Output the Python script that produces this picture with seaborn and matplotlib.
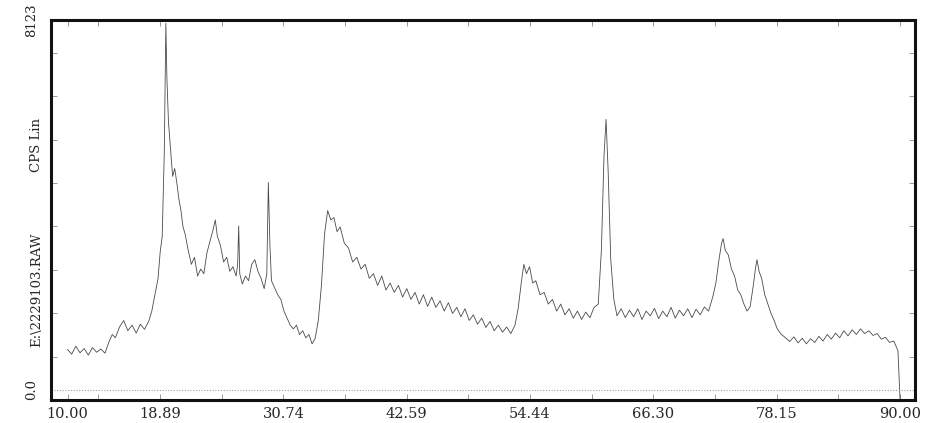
import matplotlib
matplotlib.use("Agg")
import matplotlib.pyplot as plt
import seaborn as sns

# 2-theta (deg) and intensity (counts)
two_theta = [
    10.0, 10.4, 10.8, 11.2, 11.6, 12.0, 12.4, 12.8, 13.2, 13.6,
    14.0, 14.3, 14.6, 15.0, 15.4, 15.8, 16.2, 16.6, 17.0, 17.4,
    17.8, 18.1, 18.4, 18.7, 18.9, 19.1, 19.3, 19.45, 19.55, 19.7,
    19.9, 20.1, 20.3, 20.5, 20.7, 20.9, 21.1, 21.3, 21.6, 21.9,
    22.2, 22.5, 22.8, 23.1, 23.4, 23.7, 24.0, 24.2, 24.4, 24.7,
    25.0, 25.3, 25.6, 25.9, 26.2, 26.35, 26.45, 26.55, 26.8, 27.1,
    27.4, 27.7, 28.0, 28.3, 28.6, 28.9, 29.15, 29.3, 29.45, 29.6,
    29.9, 30.2, 30.5, 30.8, 31.1, 31.4, 31.7, 32.0, 32.3, 32.6,
    32.9, 33.2, 33.5, 33.8, 34.1, 34.4, 34.7, 35.0, 35.3, 35.6,
    35.9, 36.2, 36.6, 37.0, 37.4, 37.8, 38.2, 38.6, 39.0, 39.4,
    39.8, 40.2, 40.6, 41.0, 41.4, 41.8, 42.2, 42.6, 43.0, 43.4,
    43.8, 44.2, 44.6, 45.0, 45.4, 45.8, 46.2, 46.6, 47.0, 47.4,
    47.8, 48.2, 48.6, 49.0, 49.4, 49.8, 50.2, 50.6, 51.0, 51.4,
    51.8, 52.2, 52.6, 53.0, 53.3, 53.6, 53.85, 54.1, 54.4, 54.7,
    55.0, 55.4, 55.8, 56.2, 56.6, 57.0, 57.4, 57.8, 58.2, 58.6,
    59.0, 59.4, 59.8, 60.2, 60.6, 61.0, 61.3, 61.55, 61.75, 61.95,
    62.2, 62.5, 62.8, 63.2, 63.6, 64.0, 64.4, 64.8, 65.2, 65.6,
    66.0, 66.4, 66.8, 67.2, 67.6, 68.0, 68.4, 68.8, 69.2, 69.6,
    70.0, 70.4, 70.8, 71.2, 71.6, 72.0, 72.3, 72.6, 72.85, 73.0,
    73.2, 73.5, 73.8, 74.1, 74.4, 74.7, 75.0, 75.3, 75.6, 75.9,
    76.1, 76.25, 76.45, 76.7, 77.0, 77.3, 77.6, 77.9, 78.2, 78.6,
    79.0, 79.4, 79.8, 80.2, 80.6, 81.0, 81.4, 81.8, 82.2, 82.6,
    83.0, 83.4, 83.8, 84.2, 84.6, 85.0, 85.4, 85.8, 86.2, 86.6,
    87.0, 87.4, 87.8, 88.2, 88.6, 89.0, 89.4, 89.8, 90.0,
]
cps = [
    1080, 980, 1150, 1010, 1100, 960, 1120, 1020, 1090, 1000,
    1250, 1400, 1330, 1560, 1700, 1480, 1600, 1430, 1620, 1510,
    1680, 1900, 2250, 2600, 3150, 3500, 5300, 8050, 6900, 5950,
    5380, 4780, 4950, 4650, 4300, 4050, 3700, 3550, 3200, 2900,
    3050, 2650, 2800, 2700, 3150, 3400, 3650, 3850, 3500, 3300,
    2950, 3050, 2750, 2850, 2650, 2900, 3720, 2700, 2480, 2650,
    2550, 2900, 3000, 2750, 2600, 2380, 2700, 4650, 3300, 2550,
    2400, 2250, 2150, 1900, 1750, 1600, 1520, 1600, 1400, 1480,
    1330, 1400, 1200, 1320, 1700, 2450, 3550, 4050, 3850, 3900,
    3600, 3700, 3350, 3250, 2950, 3050, 2800, 2900, 2600, 2700,
    2450, 2650, 2350, 2500, 2300, 2450, 2200, 2380, 2150, 2300,
    2050, 2250, 2000, 2200, 1980, 2120, 1900, 2080, 1850, 1980,
    1780, 1950, 1700, 1820, 1620, 1750, 1550, 1680, 1480, 1600,
    1450, 1560, 1420, 1600, 1950, 2500, 2900, 2700, 2850, 2500,
    2550, 2250, 2300, 2050, 2150, 1900, 2050, 1820, 1950, 1750,
    1900, 1720, 1880, 1760, 1980, 2050, 3200, 5200, 6000, 4900,
    3000, 2150, 1800, 1950, 1760, 1920, 1780, 1950, 1720, 1900,
    1800, 1960, 1740, 1900, 1780, 1980, 1750, 1920, 1800, 1950,
    1760, 1940, 1820, 1990, 1900, 2200, 2500, 3000, 3350, 3450,
    3200, 3100, 2800, 2650, 2350, 2250, 2050, 1900, 2000, 2450,
    2800, 3000, 2750, 2600, 2250, 2050, 1850, 1700, 1520, 1400,
    1330, 1250, 1350, 1220, 1320, 1200, 1310, 1230, 1360, 1260,
    1400, 1300, 1430, 1330, 1480, 1370, 1500, 1400, 1520, 1420,
    1480, 1380, 1420, 1300, 1340, 1230, 1260, 1050, 0,
]

x_tick_values = [10.00, 18.89, 30.74, 42.59, 54.44, 66.30, 78.15, 90.00]
x_minor_values = [12.965, 24.815, 36.665, 48.515, 60.37, 72.225, 84.075]
y_minor_values = [928, 1856, 2784, 3712, 4640, 5568, 6496, 7424]
y_max = 8123
baseline_cps = 214
y_title = "CPS Lin"
file_name = "E:\\2229103.RAW"

sns.set_style("ticks")
plt.rcParams["font.family"] = ["DejaVu Serif"]

fig = plt.figure(figsize=(9.34, 4.23), dpi=100)
ax = fig.add_axes([0.0546, 0.0544, 0.9251, 0.8983])

sns.lineplot(x=two_theta, y=cps, ax=ax, color="#4a4a4a", linewidth=0.6,
             sort=False, estimator=None)
ax.axhline(baseline_cps, color="#9a9a9a", linestyle=(0, (1, 1.5)), linewidth=0.8)

ax.set_xlim(8.414, 91.44)
ax.set_ylim(0, y_max)

ax.set_xticks(x_tick_values, [f"{v:.2f}" for v in x_tick_values])
ax.set_xticks(x_minor_values, minor=True)
ax.set_yticks([0, y_max], ["0.0", "8123"])
ax.set_yticks(y_minor_values, minor=True)

ax.tick_params(axis="x", which="both", direction="in", top=True, bottom=True,
               length=4, width=0.6, color="#888888", labelsize=10.5, pad=5)
ax.tick_params(axis="y", which="minor", direction="in", left=True, right=True,
               length=4, width=0.6, color="#888888")
ax.tick_params(axis="y", which="major", length=0, labelsize=9.5, pad=9)
for lab, va in zip(ax.get_yticklabels(), ["bottom", "center"]):
    lab.set_rotation(90)
    lab.set_va(va)

for side in ["left", "right", "top", "bottom"]:
    ax.spines[side].set_visible(True)
    ax.spines[side].set_linewidth(2.2)
    ax.spines[side].set_color("#111111")

ax.set_xlabel("")
ax.set_ylabel("")
fig.text(0.0396, 0.657, y_title, rotation=90, ha="center", va="center", fontsize=9.5)
fig.text(0.0396, 0.3144, file_name, rotation=90, ha="center", va="center", fontsize=9.5)

fig.savefig("out.png", dpi=100)
